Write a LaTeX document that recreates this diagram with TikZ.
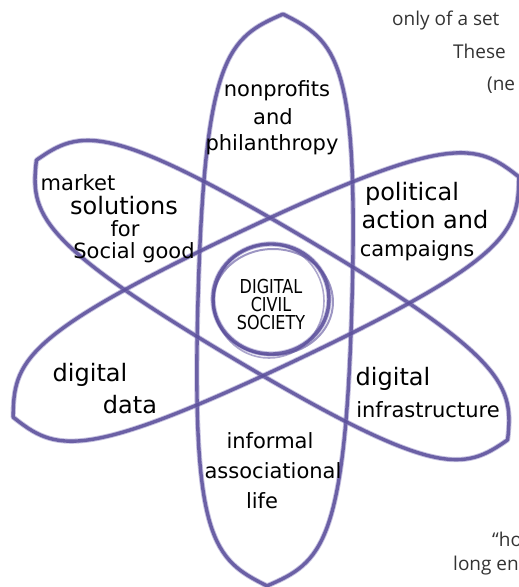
\documentclass[tikz,border=0pt]{standalone}
\usepackage{fontspec}
\newfontfamily\hand{DejaVu Sans}
\newfontfamily\pagefont{Open Sans}
\definecolor{crayon}{RGB}{92,80,155}
\definecolor{crayonlt}{RGB}{130,120,188}
\definecolor{pagegray}{RGB}{51,51,51}

\begin{document}
\begin{tikzpicture}[x=1pt,y=-1pt,
		petal/.style={line width=3.4pt, crayon, opacity=.85, line join=round},
		petalhalo/.style={line width=5.2pt, crayonlt, opacity=.45, line join=round},
		lbl/.style={font=\hand\fontsize{21}{21}\selectfont, inner sep=0pt, anchor=base},
		widelbl/.style={lbl, font=\hand\fontsize{24}{24}\selectfont},
		capslbl/.style={font=\hand\fontsize{16}{18}\selectfont, inner sep=0pt, align=center},
		pagetxt/.style={font=\pagefont\fontsize{19}{19}\selectfont, text=pagegray, inner sep=0pt, anchor=base west}]
		\useasboundingbox (0,0) rectangle (519,587);
		\clip (0,0) rectangle (519,587);
		% petal: nonprofits / informal life
		\begin{scope}[shift={(275,300)}, rotate=88.4]
		\draw [petalhalo] (-286,0) .. controls (-261,54) and (-243,77) .. (0,77) .. controls (243,77) and (261,54) .. (286,0) .. controls (261,-54) and (243,-77) .. (0,-77) .. controls (-243,-77) and (-261,-54) .. cycle;
		\draw [petal] (-286,0) .. controls (-261,54) and (-243,77) .. (0,77) .. controls (243,77) and (261,54) .. (286,0) .. controls (261,-54) and (243,-77) .. (0,-77) .. controls (-243,-77) and (-261,-54) .. cycle;
		\end{scope}
		% petal: market solutions / digital infrastructure
		\begin{scope}[shift={(272,300)}, rotate=-30.7]
		\draw [petalhalo] (-274,0) .. controls (-252,49) and (-233,70) .. (0,70) .. controls (233,70) and (252,49) .. (274,0) .. controls (252,-49) and (233,-70) .. (0,-70) .. controls (-233,-70) and (-252,-49) .. cycle;
		\draw [petal] (-274,0) .. controls (-252,49) and (-233,70) .. (0,70) .. controls (233,70) and (252,49) .. (274,0) .. controls (252,-49) and (233,-70) .. (0,-70) .. controls (-233,-70) and (-252,-49) .. cycle;
		\end{scope}
		% petal: digital data / political action
		\begin{scope}[shift={(266,297)}, rotate=25.4]
		\draw [petalhalo] (-280,0) .. controls (-256,49) and (-238,70) .. (0,70) .. controls (238,70) and (256,49) .. (280,0) .. controls (256,-49) and (238,-70) .. (0,-70) .. controls (-238,-70) and (-256,-49) .. cycle;
		\draw [petal] (-280,0) .. controls (-256,49) and (-238,70) .. (0,70) .. controls (238,70) and (256,49) .. (280,0) .. controls (256,-49) and (238,-70) .. (0,-70) .. controls (-238,-70) and (-256,-49) .. cycle;
		\end{scope}
		% center rings
		\draw [petalhalo] (271,299) ellipse [x radius=58, y radius=55];
		\draw [petal] (271,299) ellipse [x radius=58, y radius=55];
		\draw [petal, line width=2pt, opacity=.6] (273,302) ellipse [x radius=60, y radius=53];
		\draw [petal, line width=1.6pt, opacity=.5] (269,301) ellipse [x radius=55, y radius=57];
		% labels
		\node [lbl] (np1) at (277,96) {nonprofits};
		\node [lbl] (np2) at (273,124) {and};
		\node [lbl] (np3) at (272,150) {philanthropy};
		\node [lbl] (ms1) at (78,190) {market};
		\node [widelbl] (ms2) at (124,214) {solutions};
		\node [lbl] (ms3) at (125,236) {for};
		\node [lbl] (ms4) at (134,258) {Social good};
		\node [widelbl] (pa1) at (412,200) {political};
		\node [widelbl] (pa2) at (425,228) {action and};
		\node [lbl] (pa3) at (417,256) {campaigns};
		\node [capslbl] (dcs) at (271,305) {\scalebox{1}[1.2]{DIGITAL}\\\scalebox{1}[1.2]{CIVIL}\\\scalebox{1}[1.2]{SOCIETY}};
		\node [widelbl] (dd1) at (90,381) {digital};
		\node [widelbl] (dd2) at (130,413) {data};
		\node [widelbl] (di1) at (393,385) {digital};
		\node [lbl] (di2) at (428,417) {infrastructure};
		\node [lbl] (il1) at (270,448) {informal};
		\node [lbl] (il2) at (273,478) {associational};
		\node [lbl] (il3) at (262,508) {life};
		% running text of the page
		\node [pagetxt] (pg1) at (392,25) {only of a set};
		\node [pagetxt] (pg2) at (453,58) {These};
		\node [pagetxt] (pg3) at (487,90) {(ne};
		\node [pagetxt] (pg4) at (492,546) {“ho};
		\node [pagetxt] (pg5) at (453,570) {long en};
		\end{tikzpicture}
\end{document}
